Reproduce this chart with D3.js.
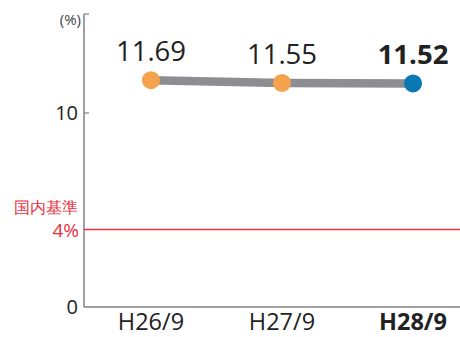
<!DOCTYPE html>
<html><head><meta charset="utf-8">
<script src="https://cdn.jsdelivr.net/npm/d3@7"></script>
<style>body{margin:0;background:#fff}svg{display:block}text{font-family:"Open Sans","Noto Sans",sans-serif}</style>
</head><body><svg id="c" width="460" height="337"></svg>
<script>
const categories = ["H26/9", "H27/9", "H28/9"];
const values = [11.69, 11.55, 11.52];
const valueLabels = ["11.69", "11.55", "11.52"];
const yTicks = [0, 10];
const benchmark = 4;
const benchLabel = ["国内基準", "4%"];

const svg = d3.select("#c");
const x = d3.scalePoint().domain(categories).range([151, 413]);
const y = d3.scaleLinear().domain([0, 15.1]).range([307, 14]);
const axisX = 84;

svg.append("line").attr("x1", axisX).attr("x2", axisX).attr("y1", y(15.1)).attr("y2", y(0))
  .attr("stroke", "#808080").attr("stroke-width", 1.5);
[...yTicks.filter(t => t > 0), 15.1].forEach(t => {
  svg.append("line").attr("x1", axisX).attr("x2", axisX + 5).attr("y1", y(t)).attr("y2", y(t))
    .attr("stroke", "#808080").attr("stroke-width", 1.2);
});
svg.append("line").attr("x1", axisX).attr("x2", 460).attr("y1", y(0)).attr("y2", y(0))
  .attr("stroke", "#808080").attr("stroke-width", 1.5);

svg.selectAll(".yt").data(yTicks).enter().append("text")
  .attr("x", 78).attr("y", d => y(d)).attr("dy", "0.35em").attr("text-anchor", "end")
  .attr("font-size", 20).attr("fill", "#222").text(d => d);
svg.append("text").attr("x", 81).attr("y", 25).attr("text-anchor", "end")
  .attr("font-size", 15).attr("fill", "#444").text("(%)");

svg.append("line").attr("x1", axisX).attr("x2", 460).attr("y1", y(benchmark)).attr("y2", y(benchmark))
  .attr("stroke", "#e8323c").attr("stroke-width", 1.5);
svg.append("text").attr("x", 78).attr("y", 213).attr("text-anchor", "end")
  .attr("font-size", 15.5).attr("fill", "#e8323c").attr("font-family", "'Noto Sans CJK JP',sans-serif").text(benchLabel[0]);
svg.append("text").attr("x", 79).attr("y", 237).attr("text-anchor", "end")
  .attr("font-size", 19).attr("fill", "#e8323c").text(benchLabel[1]);

const line = d3.line().x((d, i) => x(categories[i])).y(d => y(d));
svg.append("path").datum(values).attr("d", line).attr("fill", "none")
  .attr("stroke", "#8e8e92").attr("stroke-width", 8.5);

svg.selectAll(".pt").data(values).enter().append("circle")
  .attr("cx", (d, i) => x(categories[i])).attr("cy", d => y(d)).attr("r", 9)
  .attr("fill", (d, i) => i === values.length - 1 ? "#0a78b2" : "#f5a24e");

svg.selectAll(".vl").data(values).enter().append("text")
  .attr("x", (d, i) => x(categories[i])).attr("y", d => y(d) - 19)
  .attr("text-anchor", "middle").attr("font-size", 27.5).attr("fill", "#222")
  .attr("font-weight", (d, i) => i === values.length - 1 ? "bold" : "normal")
  .text((d, i) => valueLabels[i]);

svg.selectAll(".xl").data(categories).enter().append("text")
  .attr("x", d => x(d)).attr("y", 330).attr("text-anchor", "middle")
  .attr("font-size", 23.5).attr("fill", "#222")
  .attr("font-weight", (d, i) => i === categories.length - 1 ? "bold" : "normal")
  .text(d => d);
</script></body></html>
